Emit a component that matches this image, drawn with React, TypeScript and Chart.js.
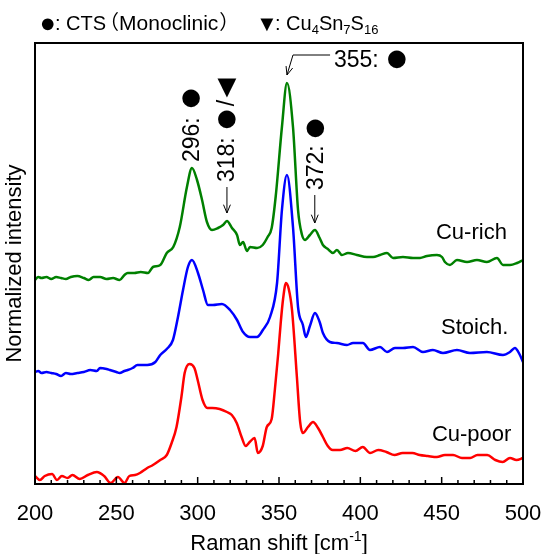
import React, { useEffect, useRef } from "react";
import { Chart, registerables } from "chart.js";

Chart.register(...registerables);

const LATIN = "'Liberation Sans', Arial, Helvetica, sans-serif";
const CJK = "'Noto Sans CJK JP', 'Noto Sans CJK SC', sans-serif";

// x axis (Raman shift, cm-1)
const xMin = 200;
const xMax = 500;
const xTickValues = [200, 250, 300, 350, 400, 450, 500];
const xMinorStep = 10;

// y axis (normalized intensity, offset spectra)
const yMin = 0;
const yMax = 4.41;

const cuRichShift = [
  200, 202, 204, 207, 210, 213, 216, 219, 222, 226, 230, 233, 236, 240, 244,
  248, 252, 255, 257, 261, 265, 269.5, 272.5, 277, 281, 285, 289, 293.4, 296.5, 299.6,
  302.7, 305.7, 308.8, 312.5, 315.6, 318, 321.1, 324.2, 326, 327.9, 330.3, 332.2, 336.5, 340, 343,
  345.5, 348, 351.8, 354.9, 358.6, 361.7, 364, 366, 369, 372.1, 375, 377, 380, 383.2, 385.6,
  388.7, 392.4, 397.9, 404.1, 407.8, 412.1, 416.4, 420.1, 426.2, 432.4, 436.7, 441, 447.1, 450.2, 452,
  455.1, 459.4, 465.6, 471.7, 477.8, 484, 487.7, 492, 496.3, 500,
];
const cuRichIntensity = [
  2.04, 2.07, 2.06, 2.07, 2.05, 2.07, 2.06, 2.05, 2.07, 2.08, 2.06, 2.04, 2.07, 2.07, 2.05,
  2.06, 2.04, 2.09, 2.11, 2.11, 2.12, 2.11, 2.17, 2.19, 2.31, 2.37, 2.57, 2.97, 3.16, 3.04,
  2.84, 2.62, 2.54, 2.56, 2.59, 2.63, 2.56, 2.49, 2.39, 2.42, 2.33, 2.37, 2.36, 2.39, 2.47,
  2.56, 2.88, 3.57, 4.01, 3.57, 2.74, 2.5, 2.44, 2.49, 2.54, 2.46, 2.39, 2.35, 2.31, 2.34,
  2.29, 2.31, 2.29, 2.27, 2.27, 2.29, 2.31, 2.26, 2.27, 2.26, 2.26, 2.28, 2.29, 2.27, 2.22,
  2.19, 2.24, 2.22, 2.24, 2.22, 2.26, 2.19, 2.19, 2.21, 2.24,
];

const stoichShift = [
  200, 202, 204, 207, 210, 213, 216, 219, 222, 226, 230, 234, 238, 240, 244,
  246, 250, 252, 255, 257, 260, 263, 267, 269, 274, 277, 281, 284.8, 287.9, 291,
  294, 296.5, 300.2, 303.3, 306.3, 309.4, 314.9, 319.9, 324.2, 327.9, 332.2, 336.5, 340.1, 344.5, 348.8,
  351.8, 354.9, 358.6, 361.7, 364.7, 366.5, 369, 372.1, 375, 377, 381.3, 385.6, 391.8, 395.5, 401.6,
  405.9, 412.1, 416.4, 421.3, 426.2, 432.4, 438.5, 444.6, 450.8, 459.4, 467.4, 477.8, 487.7, 492, 495,
  498.1, 500,
];
const stoichIntensity = [
  1.12, 1.13, 1.11, 1.12, 1.11, 1.1, 1.08, 1.11, 1.1, 1.11, 1.12, 1.14, 1.13, 1.16, 1.15,
  1.14, 1.12, 1.11, 1.13, 1.14, 1.16, 1.19, 1.19, 1.19, 1.22, 1.29, 1.35, 1.44, 1.67, 1.94,
  2.17, 2.24, 2.11, 1.94, 1.79, 1.79, 1.8, 1.74, 1.64, 1.52, 1.47, 1.47, 1.54, 1.67, 2.01,
  2.74, 3.09, 2.57, 1.77, 1.59, 1.47, 1.58, 1.71, 1.62, 1.51, 1.42, 1.41, 1.39, 1.41, 1.41,
  1.34, 1.37, 1.32, 1.36, 1.36, 1.37, 1.32, 1.34, 1.31, 1.34, 1.31, 1.32, 1.29, 1.32, 1.36,
  1.29, 1.22,
];

const cuPoorShift = [
  200, 203, 206, 210.5, 213.5, 216.5, 220, 223, 227.5, 232.5, 238, 242.5, 246.5, 251, 255,
  258, 261.5, 264.5, 269, 272.5, 277, 281, 284, 287, 290, 292, 295, 298, 300, 303,
  306, 309, 313.5, 318, 321, 324, 327, 329.5, 332, 335, 337, 340, 342.5, 345.5, 347.5,
  349.5, 351, 352.5, 354.3, 356, 358, 361, 363, 364.7, 367.8, 370.9, 374, 377, 380, 383,
  387.5, 392, 397, 401.5, 406, 411, 416, 421, 426, 432, 436.5, 441.5, 447, 452, 457,
  462.5, 467.5, 472, 478, 483, 487.5, 492, 496, 500,
];
const cuPoorIntensity = [
  0.08, 0.04, 0.08, 0.1, 0.04, 0.08, 0.06, 0.09, 0.05, 0.09, 0.12, 0.08, 0.01, 0.07, 0.01,
  0.08, 0.09, 0.11, 0.16, 0.19, 0.24, 0.29, 0.41, 0.57, 0.87, 1.11, 1.2, 1.16, 1.04, 0.84,
  0.76, 0.76, 0.75, 0.72, 0.69, 0.61, 0.47, 0.38, 0.42, 0.46, 0.31, 0.38, 0.57, 0.65, 0.95,
  1.3, 1.6, 1.85, 2.01, 1.95, 1.74, 1.07, 0.62, 0.51, 0.57, 0.62, 0.56, 0.47, 0.38, 0.34,
  0.34, 0.36, 0.33, 0.37, 0.31, 0.34, 0.32, 0.29, 0.31, 0.31, 0.29, 0.28, 0.27, 0.29, 0.29,
  0.26, 0.26, 0.29, 0.29, 0.24, 0.22, 0.26, 0.24, 0.26,
];

const seriesNames = ["Cu-rich", "Stoich.", "Cu-poor"];
const seriesColors = ["#008000", "#0000ff", "#ff0000"];

const xTitle = "Raman shift [cm";
const xTitleSup = "-1";
const yTitle = "Normalized intensity";

function pairs(xs: number[], ys: number[]) {
  return xs.map((x, i) => ({ x, y: ys[i] }));
}

function arrowHead(ctx: CanvasRenderingContext2D, x1: number, y1: number, x2: number, y2: number, size = 8) {
  const ang = Math.atan2(y2 - y1, x2 - x1);
  const a = Math.PI / 8;
  ctx.beginPath();
  ctx.moveTo(x2 - size * Math.cos(ang - a), y2 - size * Math.sin(ang - a));
  ctx.lineTo(x2, y2);
  ctx.lineTo(x2 - size * Math.cos(ang + a), y2 - size * Math.sin(ang + a));
  ctx.stroke();
}

// draw a symbol glyph so that its ink box has the given width and is centred at (cx, cy)
function glyph(ctx: CanvasRenderingContext2D, ch: string, cx: number, cy: number, width: number) {
  ctx.save();
  ctx.font = `100px ${LATIN}`;
  ctx.textAlign = "left";
  ctx.textBaseline = "alphabetic";
  let m = ctx.measureText(ch);
  const w = m.actualBoundingBoxLeft + m.actualBoundingBoxRight || 60;
  const size = (100 * width) / w;
  ctx.font = `${size}px ${LATIN}`;
  m = ctx.measureText(ch);
  const left = -m.actualBoundingBoxLeft;
  const right = m.actualBoundingBoxRight;
  const top = -m.actualBoundingBoxAscent;
  const bottom = m.actualBoundingBoxDescent;
  ctx.fillText(ch, cx - (left + right) / 2, cy - (top + bottom) / 2);
  ctx.restore();
}

const decorPlugin = {
  id: "decor",
  afterDraw(chart: any) {
    const ctx: CanvasRenderingContext2D = chart.ctx;
    const a = chart.chartArea;
    const xs = chart.scales.x;
    const ys = chart.scales.y;
    const X = (v: number) => xs.getPixelForValue(v);
    const Y = (v: number) => ys.getPixelForValue(v);
    ctx.save();

    // frame
    ctx.strokeStyle = "#000";
    ctx.lineWidth = 2;
    ctx.strokeRect(a.left, a.top, a.right - a.left, a.bottom - a.top);

    // inward ticks on bottom axis
    ctx.lineWidth = 1.5;
    for (let v = xMin; v <= xMax; v += xMinorStep) {
      const px = X(v);
      const len = v % 50 === 0 ? 7 : 4;
      ctx.beginPath();
      ctx.moveTo(px, a.bottom);
      ctx.lineTo(px, a.bottom - len);
      ctx.stroke();
    }

    ctx.fillStyle = "#000";
    ctx.textBaseline = "alphabetic";

    // x axis title with superscript
    ctx.font = `22px ${LATIN}`;
    const w1 = ctx.measureText(xTitle).width;
    ctx.font = `14px ${LATIN}`;
    const w2 = ctx.measureText(xTitleSup).width;
    ctx.font = `22px ${LATIN}`;
    const w3 = ctx.measureText("]").width;
    const cx = (a.left + a.right) / 2;
    let tx = cx - (w1 + w2 + w3) / 2;
    const tb = 550;
    ctx.textAlign = "left";
    ctx.fillText(xTitle, tx, tb);
    tx += w1;
    ctx.font = `14px ${LATIN}`;
    ctx.fillText(xTitleSup, tx, tb - 9);
    tx += w2;
    ctx.font = `22px ${LATIN}`;
    ctx.fillText("]", tx, tb);

    // top legend line
    const lb = 30;
    glyph(ctx, "●", 48, 24, 12);
    let lx = 55;
    ctx.font = `20px ${LATIN}`;
    ctx.fillText(": CTS", lx, lb);
    lx += ctx.measureText(": CTS").width;
    ctx.font = `20px ${CJK}`;
    ctx.fillText("（", lx - 7, lb - 1);
    lx += ctx.measureText("（").width - 7;
    ctx.font = `21px ${LATIN}`;
    ctx.fillText("Monoclinic", lx, lb);
    lx += ctx.measureText("Monoclinic").width;
    ctx.font = `20px ${CJK}`;
    ctx.fillText("）", lx + 1, lb - 1);
    glyph(ctx, "▼", 267, 25, 13);
    lx = 275;
    const chain: [string, number, number][] = [
      [": Cu", 20, 0],
      ["4", 13, 4],
      ["Sn", 20, 0],
      ["7", 13, 4],
      ["S", 20, 0],
      ["16", 13, 4],
    ];
    for (const [s, size, dy] of chain) {
      ctx.font = `${size}px ${LATIN}`;
      ctx.fillText(s, lx, lb + dy);
      lx += ctx.measureText(s).width;
    }

    // peak annotations
    const rotText = (s: string, px: number, py: number, size: number) => {
      ctx.save();
      ctx.translate(px, py);
      ctx.rotate(-Math.PI / 2);
      ctx.font = `${size}px ${LATIN}`;
      ctx.textAlign = "left";
      ctx.textBaseline = "middle";
      ctx.fillText(s, 0, 1);
      ctx.restore();
    };
    const DOT = 18;

    // 296
    rotText("296:", X(296), Y(3.22), 23);
    glyph(ctx, "●", X(296), Y(3.86), DOT);
    // 318
    rotText("318:", X(318), Y(3.02), 23);
    glyph(ctx, "●", X(318), Y(3.65), DOT);
    ctx.save();
    ctx.translate(X(318), Y(3.81));
    ctx.rotate(-Math.PI / 2);
    ctx.font = `23px ${LATIN}`;
    ctx.textAlign = "center";
    ctx.textBaseline = "middle";
    ctx.fillText("/", 0, 1);
    ctx.restore();
    glyph(ctx, "▼", X(318), Y(3.96), 19);
    // 372
    rotText("372:", X(372.5), Y(2.94), 23);
    glyph(ctx, "●", X(372.5), Y(3.56), DOT);

    // arrows
    ctx.lineWidth = 1;
    ctx.strokeStyle = "#000";
    const vArrow = (v: number, y1: number, y2: number) => {
      const px = X(v);
      ctx.beginPath();
      ctx.moveTo(px, Y(y1));
      ctx.lineTo(px, Y(y2));
      ctx.stroke();
      arrowHead(ctx, px, Y(y1), px, Y(y2), 9);
    };
    vArrow(318, 2.97, 2.71);
    vArrow(372, 2.89, 2.61);

    // 355 leader
    ctx.beginPath();
    ctx.moveTo(X(381.4), Y(4.29));
    ctx.lineTo(X(358.6), Y(4.29));
    ctx.lineTo(X(354.9), Y(4.09));
    ctx.stroke();
    arrowHead(ctx, X(358.6), Y(4.29), X(354.9), Y(4.09), 9);
    ctx.font = `23px ${LATIN}`;
    ctx.textAlign = "left";
    ctx.textBaseline = "middle";
    ctx.fillText("355:", X(383.8), Y(4.24) + 1);
    glyph(ctx, "●", X(422.5), Y(4.25), DOT);

    // series labels
    ctx.font = `22px ${LATIN}`;
    ctx.textAlign = "left";
    ctx.textBaseline = "middle";
    ctx.fillText(seriesNames[0], X(446.5), Y(2.51));
    ctx.fillText(seriesNames[1], X(449.6), Y(1.56));
    ctx.fillText(seriesNames[2], X(444), Y(0.49));

    ctx.restore();
  },
};

export default function App() {
  const ref = useRef<HTMLCanvasElement | null>(null);
  useEffect(() => {
    document.body.style.margin = "0";
    const canvas = ref.current;
    if (!canvas) return;
    const chart = new Chart(canvas, {
      type: "line",
      data: {
        datasets: [
          { label: seriesNames[0], data: pairs(cuRichShift, cuRichIntensity), borderColor: seriesColors[0] },
          { label: seriesNames[1], data: pairs(stoichShift, stoichIntensity), borderColor: seriesColors[1] },
          { label: seriesNames[2], data: pairs(cuPoorShift, cuPoorIntensity), borderColor: seriesColors[2] },
        ],
      },
      options: {
        animation: false,
        responsive: false,
        devicePixelRatio: 1,
        layout: { padding: { top: 43, right: 21, left: 0, bottom: 0 } },
        plugins: { legend: { display: false }, tooltip: { enabled: false } },
        elements: {
          point: { radius: 0 },
          line: { borderWidth: 2.5, cubicInterpolationMode: "monotone", fill: false },
        },
        scales: {
          x: {
            type: "linear",
            min: xMin,
            max: xMax,
            afterBuildTicks: (s: any) => {
              s.ticks = xTickValues.map((v) => ({ value: v }));
            },
            ticks: {
              font: { family: LATIN, size: 22 },
              color: "#000",
              padding: 17,
              maxRotation: 0,
              autoSkip: false,
            },
            grid: { display: false, drawTicks: false },
            border: { display: false },
            afterFit: (s: any) => {
              s.height = 70;
              s.paddingLeft = 0;
              s.paddingRight = 0;
            },
          },
          y: {
            type: "linear",
            min: yMin,
            max: yMax,
            ticks: { display: false },
            grid: { display: false, drawTicks: false },
            border: { display: false },
            title: {
              display: true,
              text: yTitle,
              color: "#000",
              font: { family: LATIN, size: 22 },
              padding: { top: 2, bottom: 0 },
            },
            afterFit: (s: any) => {
              s.width = 35;
              s.paddingTop = 0;
              s.paddingBottom = 0;
            },
          },
        },
      } as any,
      plugins: [decorPlugin],
    });
    return () => chart.destroy();
  }, []);
  return <canvas ref={ref} width={544} height={554} style={{ display: "block" }} />;
}
